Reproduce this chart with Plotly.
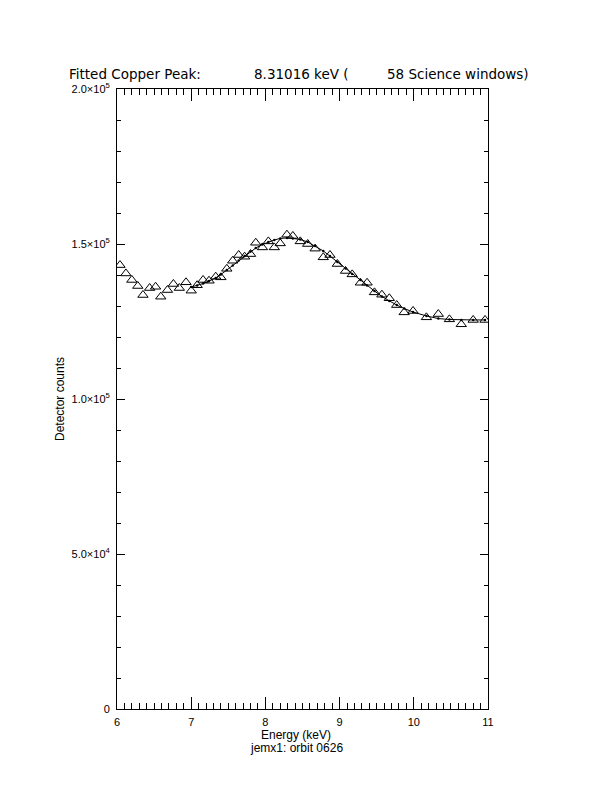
import plotly.graph_objects as go

# Data points (energy keV, detector counts)
energy = [6.04, 6.12, 6.20, 6.28, 6.35, 6.44, 6.52, 6.59, 6.68, 6.76,
          6.84, 6.93, 7.00, 7.08, 7.16, 7.24, 7.33, 7.40, 7.48, 7.56,
          7.64, 7.72, 7.80, 7.87, 7.96, 8.04, 8.12, 8.20, 8.29, 8.37,
          8.47, 8.57, 8.67, 8.78, 8.87, 8.97, 9.08, 9.17, 9.28, 9.37,
          9.47, 9.57, 9.67, 9.77, 9.87, 9.99, 10.17, 10.33, 10.48, 10.64,
          10.80, 10.96]
counts = [143200, 140500, 138400, 136450, 133550, 135800, 136200, 133000, 135150, 137100,
          135800, 137650, 134950, 136700, 138400, 138150, 139450, 139250, 142000, 144600,
          146450, 145900, 146750, 150400, 148900, 150850, 148900, 150200, 153000, 152600,
          150850, 150000, 148500, 145700, 146450, 143550, 141300, 140200, 137500, 137500,
          134400, 133650, 132500, 130300, 127950, 128400, 126350, 127400, 125700, 124100,
          125500, 125500]

# Fitted curve values (evaluated at the data energies from 7.00 keV on)
fit_energy = energy[12:]
fit_counts = [136100, 136600, 137250, 138050, 139050, 140150, 141600, 143050, 144700, 146100,
              147600, 148700, 149850, 150650, 151300, 151800, 151950, 151800, 151450, 150650,
              149350, 147750, 146100, 144200, 142100, 140300, 138400, 136600, 134850, 133050,
              131600, 130300, 129200, 128050, 126800, 125950, 125650, 125500, 125500, 125500]

ytick_vals = [0, 50000, 100000, 150000, 200000]
ytick_text = ["0", "5.0×10<sup>4</sup>", "1.0×10<sup>5</sup>", "1.5×10<sup>5</sup>", "2.0×10<sup>5</sup>"]
xtick_vals = [6, 7, 8, 9, 10, 11]

title_parts = ["Fitted Copper Peak:", "8.31016 keV (", "58 Science windows)"]
x_title = "Energy (keV)"
x_subtitle = "jemx1: orbit 0626"
y_title = "Detector counts"

FONT = "Liberation Sans"
TFONT = "DejaVu Sans"

# plot area in page pixels (page body has an 8px margin)
OFF = 8
PL, PR, PT, PB = 117, 488, 89, 709
L = PL - OFF
T = PT - OFF
R = (612 + OFF) - PR
B = (792 + OFF) - PB
W = PR - PL
H = PB - PT

def px2x(px):
    return (px - PL) / W

def py2y(py):
    return (PB - py) / H

fig = go.Figure()
fig.add_trace(go.Scatter(
    x=fit_energy, y=fit_counts, mode="lines+markers",
    line=dict(color="black", width=1),
    marker=dict(symbol="circle", size=2.5, color="black"),
    showlegend=False, hoverinfo="skip"))
fig.add_trace(go.Scatter(
    x=energy, y=counts, mode="markers",
    marker=dict(symbol="triangle-up-open", size=9, color="black",
                line=dict(color="black", width=1)),
    showlegend=False))

fig.update_layout(
    width=612, height=792,
    margin=dict(l=L, r=R, t=T, b=B),
    paper_bgcolor="white", plot_bgcolor="white",
    font=dict(family=FONT, color="black", size=11),
    xaxis=dict(range=[6, 11], tickvals=xtick_vals, ticks="inside", ticklen=12,
               tickwidth=1, tickcolor="black", showline=True, linecolor="black",
               linewidth=1, mirror="ticks", showgrid=False, zeroline=False,
               tickfont=dict(size=11, family=FONT), ticklabelstandoff=3,
               minor=dict(dtick=0.1, ticks="inside", ticklen=6, tickwidth=1,
                          tickcolor="black", showgrid=False)),
    yaxis=dict(range=[0, 200000], tickvals=ytick_vals, ticktext=ytick_text,
               ticks="inside", ticklen=8, tickwidth=1, tickcolor="black",
               showline=True, linecolor="black", linewidth=1, mirror="ticks",
               showgrid=False, zeroline=False, tickfont=dict(size=11, family=FONT),
               ticklabelstandoff=4,
               minor=dict(dtick=10000, ticks="inside", ticklen=4, tickwidth=1,
                          tickcolor="black", showgrid=False)),
)

title_px = [67, 252, 385]
for txt, px in zip(title_parts, title_px):
    fig.add_annotation(text=txt, x=px2x(px), y=py2y(74), xref="paper", yref="paper",
                       xanchor="left", yanchor="middle", showarrow=False,
                       font=dict(size=13.5, family=TFONT))

fig.add_annotation(text=x_title, x=px2x(296), y=py2y(735), xref="paper", yref="paper",
                   xanchor="center", yanchor="middle", showarrow=False,
                   font=dict(size=12, family=FONT))
fig.add_annotation(text=x_subtitle, x=px2x(296), y=py2y(748), xref="paper", yref="paper",
                   xanchor="center", yanchor="middle", showarrow=False,
                   font=dict(size=12, family=FONT))
fig.add_annotation(text=y_title, x=px2x(60), y=py2y(399), xref="paper", yref="paper",
                   xanchor="center", yanchor="middle", showarrow=False, textangle=-90,
                   font=dict(size=12, family=FONT))

fig.write_html("out.html")
